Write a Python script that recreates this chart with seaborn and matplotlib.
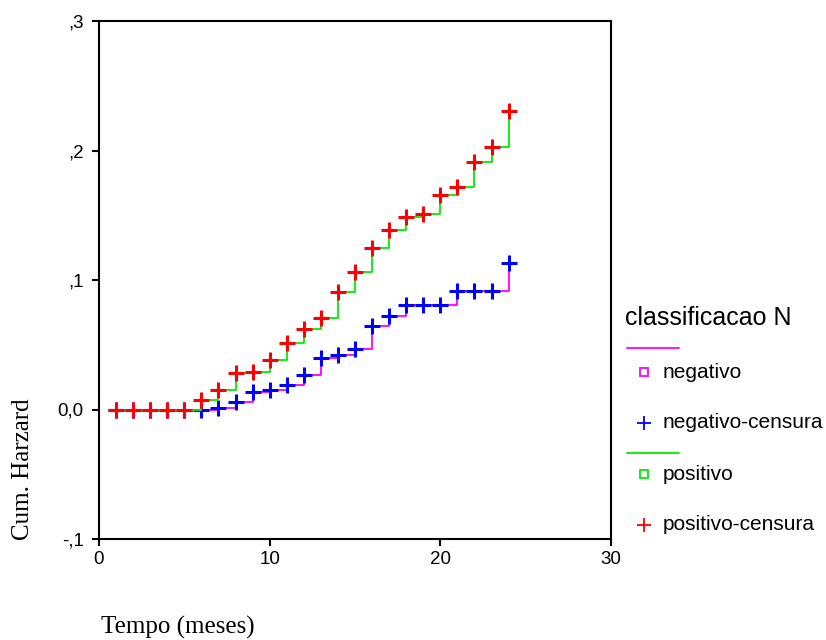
import numpy as np
import pandas as pd
import seaborn as sns
import matplotlib.pyplot as plt
from matplotlib.lines import Line2D

# ---- data ----
time = [1, 2, 3, 4, 5, 6, 7, 8, 9, 10, 11, 12, 13, 14, 15, 16, 17, 18, 19, 20, 21, 22, 23, 24]
neg_hazard = [0, 0, 0, 0, 0, 0, 0.001, 0.006, 0.0136, 0.0149, 0.0193, 0.027, 0.0398, 0.0419,
              0.047, 0.0645, 0.072, 0.0805, 0.0805, 0.0805, 0.0913, 0.0913, 0.0913, 0.113]
pos_hazard = [0, 0, 0, 0, 0, 0.0072, 0.0149, 0.0278, 0.029, 0.038, 0.051, 0.062, 0.0707, 0.0907,
              0.106, 0.1247, 0.1383, 0.1486, 0.151, 0.166, 0.172, 0.191, 0.2026, 0.2303]
xticks = [0, 10, 20, 30]
xtick_labels = ['0', '10', '20', '30']
yticks = [-0.1, 0.0, 0.1, 0.2, 0.3]
ytick_labels = ['-,1', '0,0', ',1', ',2', ',3']
legend_title = 'classificacao N'
legend_labels = ['negativo', 'negativo-censura', 'positivo', 'positivo-censura']

df_neg = pd.DataFrame({'t': time, 'h': neg_hazard})
df_pos = pd.DataFrame({'t': time, 'h': pos_hazard})

sns.set_theme(style='white')
plt.rcParams['font.family'] = ['Liberation Sans', 'DejaVu Sans']

W, H = 826, 640
fig = plt.figure(figsize=(W / 100, H / 100), dpi=100)
ax = fig.add_axes([99 / W, 1 - 539 / H, (611 - 99) / W, (539 - 21) / H])

MAG, BLUE, GREEN, RED = '#FF00FF', '#0000FF', '#00EE00', '#FF0000'

sns.lineplot(data=df_neg, x='t', y='h', ax=ax, color=MAG, linewidth=1.3,
             drawstyle='steps-post', zorder=2)
sns.scatterplot(data=df_neg, x='t', y='h', ax=ax, color=BLUE, marker='+', s=130,
                linewidth=2.2, zorder=3)
sns.lineplot(data=df_pos, x='t', y='h', ax=ax, color=GREEN, linewidth=1.3,
             drawstyle='steps-post', zorder=4)
sns.scatterplot(data=df_pos, x='t', y='h', ax=ax, color=RED, marker='+', s=130,
                linewidth=2.2, zorder=5)

ax.set_xlim(0, 30)
ax.set_ylim(-0.1, 0.3)
ax.set_xticks(xticks, labels=xtick_labels)
ax.set_yticks(yticks, labels=ytick_labels)
ax.set_xlabel('')
ax.set_ylabel('')
for sp in ax.spines.values():
    sp.set_visible(True)
    sp.set_color('black')
    sp.set_linewidth(1.5)
ax.tick_params(axis='both', direction='out', length=5, width=1.5, color='black',
               labelsize=13.5, labelcolor='black', bottom=True, left=True)
ax.tick_params(axis='y', pad=6)
ax.tick_params(axis='x', pad=4)
ax.grid(False)

# axis titles
fig.text(23 / W, 1 - 469 / H, 'Cum. Harzard', rotation=90, ha='center', va='center',
         family=['Liberation Serif'], fontsize=18, color='black')
fig.text(101 / W, 1 - 627 / H, 'Tempo (meses)', ha='left', va='center',
         family=['Liberation Serif'], fontsize=18, color='black')

# legend (manual)
def fx(x):
    return x / W

def fy(y):
    return 1 - y / H

fig.text(fx(625), fy(318), legend_title, ha='left', va='center', fontsize=18, color='black')
fig.add_artist(Line2D([fx(627), fx(679)], [fy(348), fy(348)], color=MAG, lw=1.3,
                      transform=fig.transFigure))
fig.add_artist(Line2D([fx(644)], [fy(372)], marker='s', markersize=5.5, markerfacecolor='white',
                      markeredgecolor=MAG, markeredgewidth=1.3, linestyle='', transform=fig.transFigure))
fig.text(fx(663), fy(372), legend_labels[0], ha='left', va='center', fontsize=15, color='black')
fig.add_artist(Line2D([fx(644)], [fy(423)], marker='+', markersize=10, markeredgecolor=BLUE,
                      markeredgewidth=1.3, linestyle='', transform=fig.transFigure))
fig.text(fx(663), fy(423), legend_labels[1], ha='left', va='center', fontsize=15, color='black')
fig.add_artist(Line2D([fx(627), fx(679)], [fy(453), fy(453)], color=GREEN, lw=1.3,
                      transform=fig.transFigure))
fig.add_artist(Line2D([fx(644)], [fy(474)], marker='s', markersize=5.5, markerfacecolor='white',
                      markeredgecolor=GREEN, markeredgewidth=1.3, linestyle='', transform=fig.transFigure))
fig.text(fx(663), fy(474), legend_labels[2], ha='left', va='center', fontsize=15, color='black')
fig.add_artist(Line2D([fx(644)], [fy(525)], marker='+', markersize=10, markeredgecolor=RED,
                      markeredgewidth=1.3, linestyle='', transform=fig.transFigure))
fig.text(fx(663), fy(525), legend_labels[3], ha='left', va='center', fontsize=15, color='black')

fig.savefig('out.png', dpi=100)
